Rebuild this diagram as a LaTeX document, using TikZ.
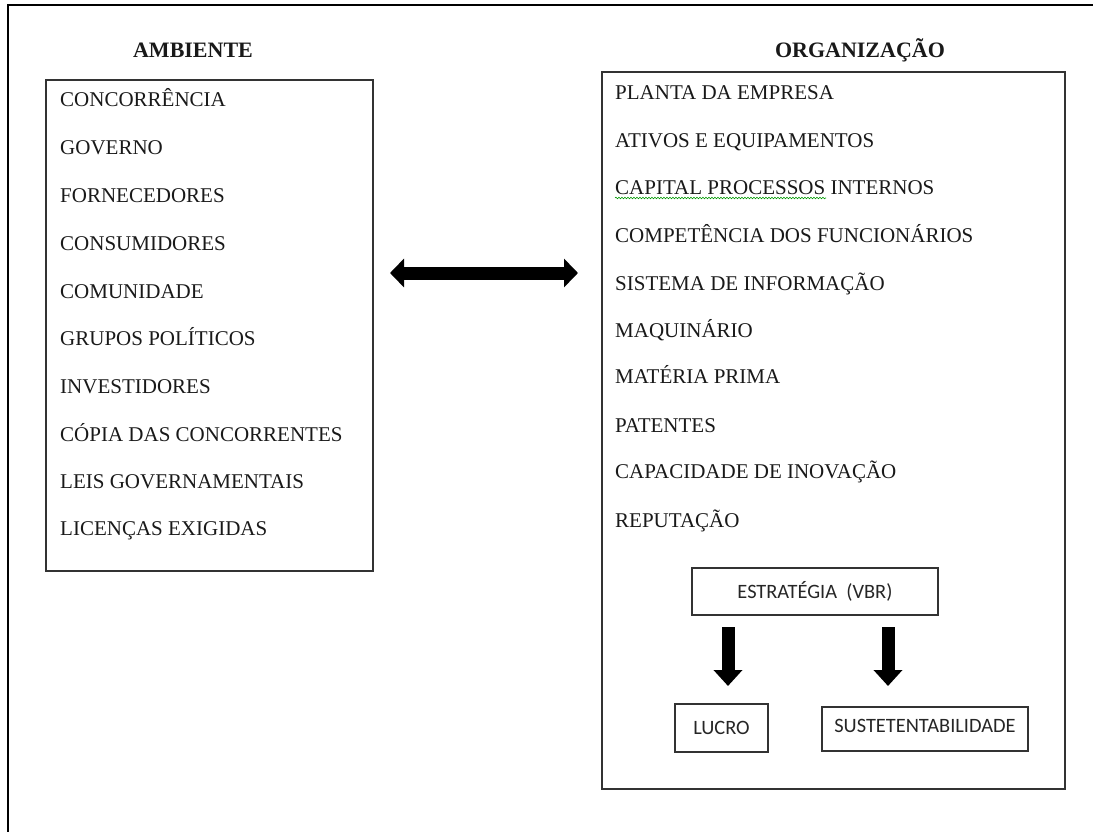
\documentclass[tikz,border=0pt]{standalone}
\usepackage{fontspec}
\setmainfont{Liberation Serif}
\newfontfamily\calibri{Carlito}
\usetikzlibrary{arrows.meta,decorations.pathmorphing}
\tikzset{
  caixa/.style={draw=black!80, line width=1.3pt, inner sep=0pt},
  item/.style={anchor=base west, inner sep=0pt, text=black!90, font=\fontsize{21}{25}\selectfont},
  titulo/.style={inner sep=0pt, text=black!90, font=\fontsize{22}{26}\selectfont\bfseries},
  rotulo/.style={caixa, text=black!85, font=\calibri\fontsize{20.4}{24}\selectfont},
  setadupla/.style={line width=13pt, {Triangle[width=28pt,length=14pt]}-{Triangle[width=28pt,length=14pt]}},
  setabaixo/.style={line width=13pt, -{Triangle[width=28pt,length=16pt]}}
}
\begin{document}
\begin{tikzpicture}[x=1pt,y=-1pt]
            \useasboundingbox (0,0) rectangle (1093,832);
            \draw[line width=2.8pt] (8,832) -- (8,5) -- (1093,5);
            \node[titulo] (tamb) at (193,50) {AMBIENTE};
            \node[titulo] (torg) at (860,50) {ORGANIZAÇÃO};
            \node[caixa, minimum width=327pt, minimum height=491pt] (ambiente) at (209.5,325.5) {};
            \node[caixa, minimum width=463pt, minimum height=717pt] (organizacao) at (833.5,430.5) {};
            \node[item] (amb1) at (60,107) {CONCORRÊNCIA};
            \node[item] (amb2) at (60,155) {GOVERNO};
            \node[item] (amb3) at (60,203) {FORNECEDORES};
            \node[item] (amb4) at (60,250) {CONSUMIDORES};
            \node[item] (amb5) at (60,298) {COMUNIDADE};
            \node[item] (amb6) at (60,345) {GRUPOS POLÍTICOS};
            \node[item] (amb7) at (60,393) {INVESTIDORES};
            \node[item] (amb8) at (60,441) {CÓPIA DAS CONCORRENTES};
            \node[item] (amb9) at (60,488) {LEIS GOVERNAMENTAIS};
            \node[item] (amb10) at (60,535) {LICENÇAS EXIGIDAS};
            \node[item] (org1) at (615,100) {PLANTA DA EMPRESA};
            \node[item] (org2) at (615,148) {ATIVOS E EQUIPAMENTOS};
            \node[item] (org3) at (615,195) {CAPITAL PROCESSOS INTERNOS};
            \node[item] (org4) at (615,242) {COMPETÊNCIA DOS FUNCIONÁRIOS};
            \node[item] (org5) at (615,290) {SISTEMA DE INFORMAÇÃO};
            \node[item] (org6) at (615,337) {MAQUINÁRIO};
            \node[item] (org7) at (615,383) {MATÉRIA PRIMA};
            \node[item] (org8) at (615,432) {PATENTES};
            \node[item] (org9) at (615,478) {CAPACIDADE DE INOVAÇÃO};
            \node[item] (org10) at (615,527) {REPUTAÇÃO};
            \draw[green!60!black, line width=0.6pt, decorate, decoration={snake, amplitude=0.8pt, segment length=3pt}] (615,198) -- (826,198);
            \node[rotulo, minimum width=246pt, minimum height=47pt] (estrategia) at (815,591.5) {ESTRATÉGIA\ \ (VBR)};
            \node[rotulo, minimum width=93pt, minimum height=48pt] (lucro) at (721.5,728) {LUCRO};
            \node[rotulo, minimum width=206pt, minimum height=44pt, text depth=6pt] (sust) at (925,729) {SUSTETENTABILIDADE};
            \coordinate (setaE) at (390,273);
            \coordinate (setaD) at (578,273);
            \coordinate (baixo1a) at (728,627);
            \coordinate (baixo1b) at (728,686);
            \coordinate (baixo2a) at (888,627);
            \coordinate (baixo2b) at (888,686);
            \draw[setadupla] (setaE) -- (setaD);
            \draw[setabaixo] (baixo1a) -- (baixo1b);
            \draw[setabaixo] (baixo2a) -- (baixo2b);
        \end{tikzpicture}
\end{document}
